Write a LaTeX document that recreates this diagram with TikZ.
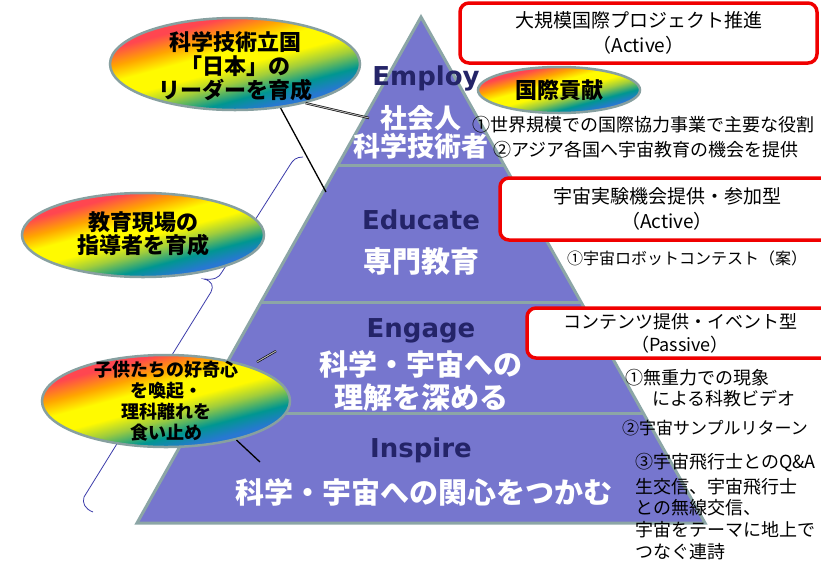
\documentclass[tikz,border=0pt]{standalone}
\usepackage{fontspec}
\setmainfont{Noto Sans CJK JP}
\newfontfamily\jp{Noto Sans CJK JP}
\newfontfamily\en{DejaVu Sans}
\usetikzlibrary{shapes.geometric}
\definecolor{pyrfill}{RGB}{118,118,206}
\definecolor{pyredge}{RGB}{140,166,166}
\definecolor{navy}{RGB}{36,36,104}
\definecolor{bracecol}{RGB}{60,60,170}
\definecolor{redline}{RGB}{240,0,0}
\definecolor{bubedge}{RGB}{135,160,160}
\definecolor{rbBlue}{RGB}{40,120,210}
\definecolor{rbTeal}{RGB}{0,150,145}
\definecolor{rbGreen}{RGB}{160,205,60}
\definecolor{rbYellow}{RGB}{255,250,0}
\definecolor{rbOrange}{RGB}{255,165,0}
\definecolor{rbRed}{RGB}{255,70,80}
\pgfdeclareverticalshading{rainbow}{100bp}{color(0bp)=(rbBlue); color(30bp)=(rbBlue); color(36bp)=(rbTeal); color(43bp)=(rbGreen); color(49bp)=(rbYellow); color(56bp)=(rbYellow); color(62bp)=(rbOrange); color(69bp)=(rbRed); color(100bp)=(rbRed)}
\begin{document}
\begin{tikzpicture}[x=1pt,y=-1pt,
  pyr/.style={fill=pyrfill, draw=pyredge, line width=3pt, line join=miter},
  divider/.style={draw=pyredge, line width=3pt},
  pyrtitle/.style={text=navy, font=\en\bfseries\fontsize{26}{30}\selectfont, inner sep=0pt},
  pyrjp/.style={text=white, font=\jp\bfseries\fontsize{27}{30}\selectfont, inner sep=0pt},
  pyrjpb/.style={text=white, font=\jp\bfseries\fontsize{29}{32}\selectfont, inner sep=0pt},
  bubble/.style={ellipse, draw=bubedge, line width=2.5pt, shade, shading=rainbow, shading angle=15, inner sep=0pt},
  bubtext/.style={align=center, text=black, inner sep=0pt},
  redbox/.style={draw=redline, fill=white, line width=3.5pt, rounded corners=9pt, align=center, inner sep=0pt, font=\jp\fontsize{19}{25}\selectfont},
  note/.style={anchor=west, inner sep=0pt, text=black, font=\jp\fontsize{18}{22}\selectfont},
  link/.style={draw=black, line width=1.3pt},
  dlink/.style={draw=black, double=gray!60, double distance=1pt, line width=0.6pt},
  bracket/.style={draw=bracecol, line width=0.8pt}]
\path[use as bounding box] (0,0) rectangle (821,563);
\clip (0,0) rectangle (821,563);
\fill[white] (0,0) rectangle (821,563);

% pyramid
\path[pyr] (421,17) -- (705,523) -- (137,523) -- cycle;
\draw[divider] (338,165) -- (504,165);
\draw[divider] (261,302) -- (581,302);
\draw[divider] (199,413) -- (643,413);

% pyramid texts
\node[pyrtitle] (employ) at (426,78) {Employ};
\node[pyrjp] (shakai) at (421,118) {社会人};
\node[pyrjp] (gijutsu) at (421,146) {科学技術者};
\node[pyrtitle] (educate) at (421,220) {Educate};
\node[pyrjpb] (senmon) at (421,262) {専門教育};
\node[pyrtitle] (engage) at (421,331) {Engage};
\node[pyrjpb] (rikai1) at (421,364) {科学・宇宙への};
\node[pyrjpb] (rikai2) at (421,397) {理解を深める};
\node[pyrtitle] (inspire) at (421,450) {Inspire};
\node[pyrjpb] (kanshin) at (424,492) {科学・宇宙への関心をつかむ};

% blue brace
\draw[bracket] (303,157) .. controls (296,157) and (293,160) .. (290,165)
  -- (222,272) .. controls (219,278) and (214,280) .. (204,279)
  .. controls (212,281) and (214,286) .. (211,292)
  -- (84,497) .. controls (82,503) and (85,509) .. (93,512);

% bubbles
\node[bubble, minimum width=250pt, minimum height=92pt] (e1) at (235,64) {};
\node[bubtext, font=\jp\bfseries\fontsize{22}{24}\selectfont] (e1t) at (235,66) {科学技術立国\\「日本」の\\リーダーを育成};
\node[bubble, minimum width=242pt, minimum height=84pt] (e2) at (143,235) {};
\node[bubtext, font=\jp\bfseries\fontsize{22}{23}\selectfont] (e2t) at (143,234) {教育現場の\\指導者を育成};
\node[bubble, minimum width=248pt, minimum height=92pt] (e3) at (166,401) {};
\node[bubtext, font=\jp\bfseries\fontsize{18}{21}\selectfont] (e3t) at (166,401) {子供たちの好奇心\\を喚起・\\理科離れを\\食い止め};
\node[bubble, minimum width=162pt, minimum height=46pt] (e4) at (559,90) {};
\node[bubtext, font=\jp\bfseries\fontsize{22}{24}\selectfont] (e4t) at (559,90) {国際貢献};

% connectors
\coordinate (p1) at (369,118);
\coordinate (p2) at (326,192);
\coordinate (q1) at (257,362);
\coordinate (q2) at (276,351);
\coordinate (p4) at (260,462);
\draw[dlink] (e1.-29) -- (p1);
\draw[link] (e1.-44) -- (p2);
\draw[dlink] (q1) -- (q2);
\draw[link] (e3.-29) -- (p4);

% red boxes
\node[redbox, minimum width=357pt, minimum height=60pt] (b1) at (638.5,33) {大規模国際プロジェクト推進\\（Active）};
\node[redbox, minimum width=334pt, minimum height=62pt] (b2) at (667,209) {宇宙実験機会提供・参加型\\（Active）};
\node[redbox, minimum width=306pt, minimum height=50pt, font=\jp\fontsize{18}{23}\selectfont] (b3) at (680,333) {コンテンツ提供・イベント型\\（Passive）};

% notes
\node[note] (n1) at (472,125) {①世界規模での国際協力事業で主要な役割};
\node[note] (n2) at (493,150) {②アジア各国へ宇宙教育の機会を提供};
\node[note, font=\jp\fontsize{16}{19}\selectfont] (n3) at (567,258) {①宇宙ロボットコンテスト（案）};
\node[note] (n4) at (625,378) {①無重力での現象};
\node[note] (n5) at (652,399) {による科教ビデオ};
\node[note, font=\jp\fontsize{17}{20}\selectfont] (n6) at (622,428) {②宇宙サンプルリターン};
\node[note] (n7) at (635,463) {③宇宙飛行士とのQ\&A};
\node[note] (n8) at (635,487) {生交信、宇宙飛行士};
\node[note] (n9) at (635,508) {との無線交信、};
\node[note] (n10) at (635,530) {宇宙をテーマに地上で};
\node[note] (n11) at (635,552) {つなぐ連詩};
\end{tikzpicture}
\end{document}
